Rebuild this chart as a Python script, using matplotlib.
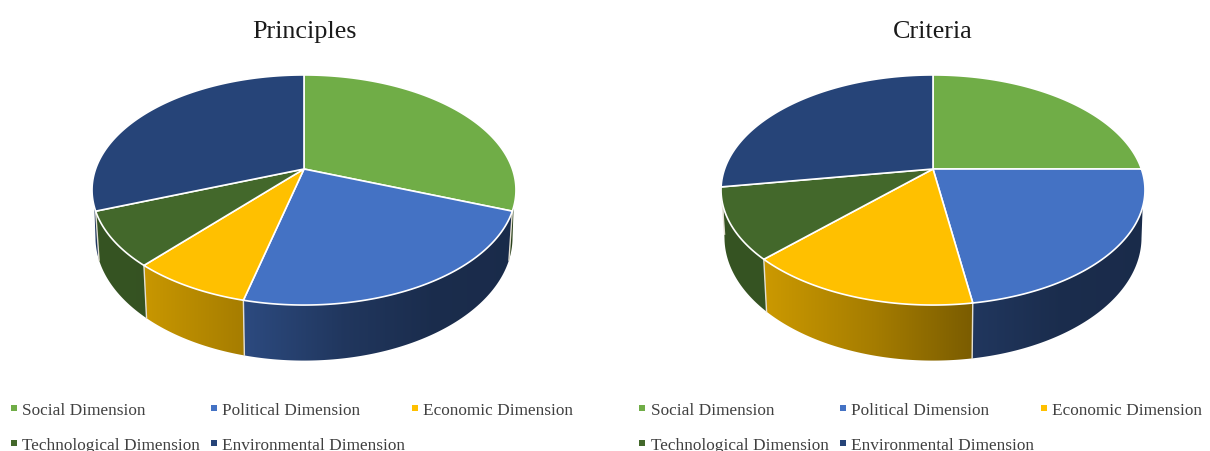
import numpy as np
import matplotlib
matplotlib.use("Agg")
import matplotlib.pyplot as plt
from matplotlib.patches import Polygon
from matplotlib.colors import to_rgb

# Data
categories = ["Social Dimension", "Political Dimension", "Economic Dimension",
              "Technological Dimension", "Environmental Dimension"]
principles = [8, 6, 2, 2, 8]
criteria = [10, 9, 6, 4, 11]
colors = ["#70ad47", "#4472c4", "#ffc000", "#43682b", "#264478"]

plt.rcParams["font.family"] = ["Liberation Serif", "DejaVu Serif"]

# Perspective of the tilted disc, all in pixels of the figure
APEX_Y = 170
TILT = 0.1826
TOP_A, TOP_B = 111.2, 208.4
BASE_A, BASE_B, BASE_DROP = 119.0, 205.0, 46
# Range of rim angles where the wall shows, on the top and on the bottom rim
TOP_RANGE = (108.7, 251.3)
BASE_RANGE = (101.0, 259.0)


def project(t, cx, a, b, apex_y):
    """Rim point for angle t (clockwise from 12 o'clock, degrees)"""
    rad = np.radians(t)
    x, y = np.sin(rad), np.cos(rad)
    return cx + b * x / (1 + TILT * y), apex_y - a * y / (1 + TILT * y)


def wall_shade(dx):
    # side wall gets darker from left to right
    return np.interp(dx, [-212, -170, -60, 40, 130, 212],
                     [0.80, 0.80, 0.65, 0.48, 0.39, 0.38])


def draw_pie(ax, values, cx, title):
    values = np.array(values, dtype=float)
    edges = np.concatenate([[0], np.cumsum(values) / values.sum() * 360])

    # Side wall first: a horizontal gradient clipped to each slice's wall
    dx = np.arange(-215, 216)
    for i, color in enumerate(colors):
        top0, top1 = max(edges[i], TOP_RANGE[0]), min(edges[i + 1], TOP_RANGE[1])
        base0, base1 = max(edges[i], BASE_RANGE[0]), min(edges[i + 1], BASE_RANGE[1])
        if top1 <= top0 or base1 <= base0:
            continue
        xs0, ys0 = project(np.linspace(top0, top1, 200), cx, TOP_A, TOP_B, APEX_Y)
        xs1, ys1 = project(np.linspace(base1, base0, 200), cx, BASE_A, BASE_B, APEX_Y + BASE_DROP)
        outline = Polygon(np.c_[np.r_[xs0, xs1], np.r_[ys0, ys1]], closed=True,
                          transform=ax.transData, facecolor="none", edgecolor="none")
        ax.add_patch(outline)
        grad = wall_shade(dx)[None, :, None] * np.array(to_rgb(color))[None, None, :]
        im = ax.imshow(grad, extent=[cx - 215, cx + 215, 400, 50], aspect="auto",
                       interpolation="bilinear", zorder=1)
        im.set_clip_path(outline)

    # Light seams between the wall pieces
    for t in edges[1:-1]:
        if np.cos(np.radians(t)) < -0.01:
            x0, y0 = project(t, cx, TOP_A, TOP_B, APEX_Y)
            x1, y1 = project(t, cx, BASE_A, BASE_B, APEX_Y + BASE_DROP)
            ax.plot([x0, x1], [y0, y1], color="#e4e0d4", lw=1.0, zorder=2)

    # Top face
    for i, color in enumerate(colors):
        ts = np.linspace(edges[i], edges[i + 1], 200)
        xs, ys = project(ts, cx, TOP_A, TOP_B, APEX_Y)
        ax.fill(np.r_[cx, xs], np.r_[APEX_Y, ys], facecolor=color, edgecolor="white",
                lw=1.2, joinstyle="round", zorder=3)

    ax.text(cx, 32, title, ha="center", va="center", fontsize=18.8, color="#1a1a1a", zorder=5)


def draw_legend(ax, marker_xs, text_xs):
    rows = [409, 409, 409, 444, 444]
    for name, color, mx, tx, ry in zip(categories, colors, marker_xs, text_xs, rows):
        ax.plot([mx], [ry], marker="s", ms=3.8, color=color, mew=0, zorder=5)
        ax.text(tx, ry + 2, name, ha="left", va="center", fontsize=12.4, color="#404040", zorder=5)


fig = plt.figure(figsize=(12.1, 4.52), dpi=100)
ax = fig.add_axes([0, 0, 1, 1])

draw_pie(ax, principles, 304, "Principles")
draw_pie(ax, criteria, 933, "Criteria")
draw_legend(ax, [14, 214, 415, 14, 214], [22, 222, 423, 22, 222])
draw_legend(ax, [642, 843, 1044, 642, 843], [651, 851, 1052, 651, 851])

ax.set_xlim(0, 1210)
ax.set_ylim(452, 0)
ax.axis("off")

fig.savefig("out.png", dpi=100)
